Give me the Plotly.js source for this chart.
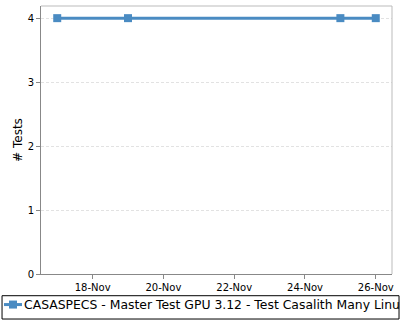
<!DOCTYPE html>
<html><head><meta charset="utf-8">
<script src="https://cdn.plot.ly/plotly-3.0.1.min.js"></script>
<style>html,body{margin:0;padding:0;background:#fff}#chart{width:400px;height:320px}</style>
</head><body><div id="chart"></div>
<script>
const seriesName = "CASASPECS - Master Test GPU 3.12 - Test Casalith Many Linux";
const dates = ["2022-11-17", "2022-11-19", "2022-11-25", "2022-11-26"];
const tests = [4, 4, 4, 4];
const tickDates = ["2022-11-18", "2022-11-20", "2022-11-22", "2022-11-24", "2022-11-26"];
const tickLabels = ["18-Nov", "20-Nov", "22-Nov", "24-Nov", "26-Nov"];

const trace = {
  x: dates, y: tests, name: seriesName, type: "scatter", mode: "lines+markers",
  line: {color: "#4a8bc2", width: 3},
  marker: {color: "#4a8bc2", symbol: "square", size: 8}
};
const layout = {
  width: 400, height: 320,
  margin: {l: 41, r: 8, t: 6, b: 46},
  paper_bgcolor: "#fff", plot_bgcolor: "#fff",
  font: {family: "DejaVu Sans", size: 10, color: "#000"},
  showlegend: true,
  legend: {orientation: "h", xref: "container", yref: "container",
    x: 0, xanchor: "left", y: -0.012, yanchor: "bottom",
    bgcolor: "rgba(0,0,0,0)", borderwidth: 0, font: {size: 12.4, family: "DejaVu Sans"},
    itemwidth: 30},
  xaxis: {type: "date", range: ["2022-11-16 13:00", "2022-11-26 11:00"],
    tickvals: tickDates, ticktext: tickLabels, ticks: "outside", ticklen: 4,
    tickcolor: "#888", showgrid: false, showline: true, linecolor: "#888", mirror: false,
    zeroline: false, tickfont: {size: 10}},
  yaxis: {range: [0, 4.19], tickvals: [0, 1, 2, 3, 4], ticks: "outside", ticklen: 4,
    tickcolor: "#888", showline: true, linecolor: "#888",
    gridcolor: "#e2e2e2", griddash: "3px,2px", zeroline: false,
    title: {text: "# Tests", font: {size: 12}, standoff: 2}, tickfont: {size: 10}},
  shapes: [
    {type: "line", xref: "paper", yref: "paper", x0: 0, x1: 1, y0: 1, y1: 1, line: {color: "#bbb", width: 1}},
    {type: "line", xref: "paper", yref: "paper", x0: 1, x1: 1, y0: 0, y1: 1, line: {color: "#bbb", width: 1}},
    {type: "rect", xref: "paper", yref: "paper", x0: -0.111, x1: 1.02, y0: -0.081, y1: -0.168, line: {color: "#000", width: 1}, fillcolor: "rgba(0,0,0,0)"}
  ]
};
Plotly.newPlot("chart", [trace], layout, {displayModeBar: false, staticPlot: true}).then(function (gd) {
  const leg = gd.querySelector("g.legend");
  if (!leg) return;
  const m = /translate\(\s*([-\d.]+)/.exec(leg.getAttribute("transform") || "");
  const ox = m ? parseFloat(m[1]) : 0;
  leg.querySelectorAll("[clip-path]").forEach(el => el.removeAttribute("clip-path"));
  leg.querySelectorAll("text.legendtext").forEach(t => t.setAttribute("x", 24 - ox));
  leg.querySelectorAll("g.legendlines path").forEach(p => p.setAttribute("d", "M" + (4 - ox) + ",0h18"));
  leg.querySelectorAll("g.legendpoints path").forEach(p => p.setAttribute("transform", "translate(" + (13 - ox) + ",0)"));
});
</script></body></html>
